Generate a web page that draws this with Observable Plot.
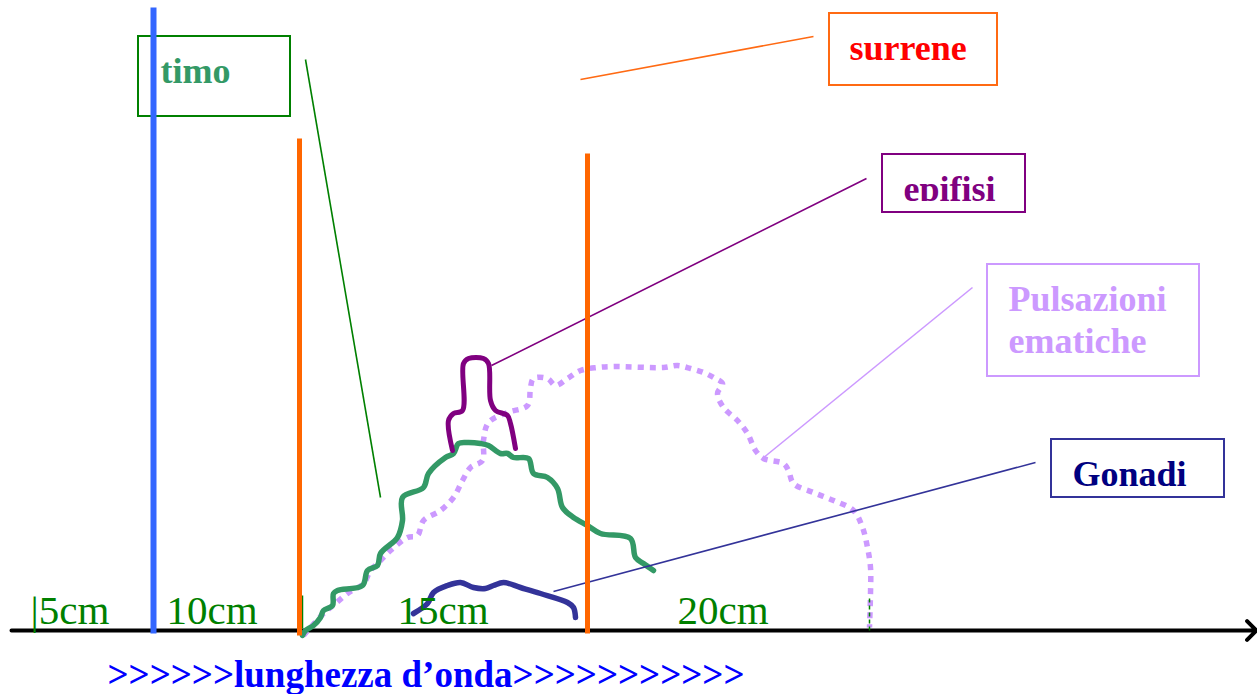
<!DOCTYPE html>
<html><head><meta charset="utf-8">
<script src="https://cdn.jsdelivr.net/npm/d3@7"></script>
<script src="https://cdn.jsdelivr.net/npm/@observablehq/plot@0.6"></script>
<style>body{margin:0;background:#fff;overflow:hidden}</style>
</head><body><div id="chart"></div>
<script>
// Curves: [position along wavelength axis, response level above axis]
const timo = [[302,-5],[305,0],[313,5],[320,13],[323,20],[332,25],[333,37],[337,40],[362,45],[367,60],[377,65],[380,77],[397,93],[402,110],[402,133],[423,143],[428,157],[445,173],[453,177],[458,187],[467,188],[480,187],[488,185],[500,177],[507,177],[513,173],[528,172],[533,157],[547,153],[557,142],[562,123],[573,113],[587,105],[600,97],[630,92],[635,73],[643,67],[653,60]];
const epifisi = [[452,180],[448,210],[453,217],[462,220],[463,267],[468,272],[483,272],[488,267],[490,230],[495,220],[507,215],[510,207],[515,182]];
const pulsazioni = [[303,-5],[323,17],[335,27],[347,37],[363,47],[370,60],[380,70],[390,80],[407,93],[417,95],[423,110],[440,120],[453,133],[462,150],[470,163],[482,170],[483,190],[488,208],[507,218],[527,225],[530,243],[533,252],[547,252],[555,245],[567,252],[580,260],[597,263],[613,264],[663,263],[677,265],[690,262],[703,258],[713,253],[722,247],[717,237],[723,223],[737,210],[747,197],[755,180],[763,172],[783,167],[788,160],[793,147],[813,138],[833,130],[853,120],[862,103],[867,83],[870,63],[870,37],[869,3]];
const gonadi = [[413,17],[427,27],[433,38],[447,45],[460,48],[473,43],[485,42],[493,45],[503,48],[520,43],[540,37],[567,28],[573,23],[575,13]];

// Vertical markers: x, bottom, top
const blueBar = [{x:153, y1:-3, y2:623}];
const orangeBars = [{x:299, y1:-5, y2:492},{x:587, y1:-3, y2:477}];
const greenTicks = [{x:302, y1:2, y2:35}];
const greenDash = [{x:869, y1:0, y2:35}];

// Axis
const axisLine = [{x1:11, y1:0, x2:1256, y2:0}];
const tickLabels = ["|5cm","10cm","15cm","20cm"];
const tickPos = [30,166,397,677];
const axisTitle = ">>>>>>lunghezza d’onda>>>>>>>>>>>";

// Annotation boxes and leaders
const labels = [
  {name:"timo", text:"timo", tx:160, ty:548, bx1:138, bx2:290, by1:514, by2:594, lx1:305, ly1:571, lx2:380, ly2:133, border:"#008000", color:"#339966", leader:"#008000"},
  {name:"surrene", text:"surrene", tx:849, ty:571, bx1:829, bx2:997, by1:545, by2:617, lx1:580, ly1:551, lx2:813, ly2:594, border:"#ff6a13", color:"#ff0000", leader:"#ff6a13"},
  {name:"epifisi", text:"epifisi", tx:903, ty:430, bx1:882, bx2:1025, by1:418, by2:476, lx1:491, ly1:265, lx2:866, ly2:452, border:"#800080", color:"#800080", leader:"#800080"},
  {name:"pulsazioni", text:"Pulsazioni\nematiche", tx:1008, ty:278, bx1:987, bx2:1199, by1:254, by2:366, lx1:762, ly1:172, lx2:972, ly2:343, border:"#cc99ff", color:"#cc99ff", leader:"#cc99ff"},
  {name:"gonadi", text:"Gonadi", tx:1072, ty:145, bx1:1051, bx2:1224, by1:133, by2:191, lx1:553, ly1:39, lx2:1035, ly2:168, border:"#333399", color:"#000080", leader:"#333399"}
];
const epifisiMask = [{x1:884, x2:1023, y1:420, y2:429}];

const px = d => d[0], py = d => d[1];
const serif = "'Liberation Serif', 'Times New Roman', serif";
const marks = [
  Plot.arrow(axisLine, {x1:"x1", y1:"y1", x2:"x2", y2:"y2", stroke:"black", strokeWidth:4, headLength:5, headAngle:90}),
  Plot.line(pulsazioni, {x:px, y:py, stroke:"#cc99ff", strokeWidth:5.5, strokeDasharray:"6,6", strokeLinecap:"butt", curve:"catmull-rom"}),
  Plot.line(timo, {x:px, y:py, stroke:"#339966", strokeWidth:5.5, curve:"catmull-rom", strokeLinejoin:"round"}),
  Plot.line(epifisi, {x:px, y:py, stroke:"#800080", strokeWidth:5, curve:"catmull-rom", strokeLinejoin:"round"}),
  Plot.line(gonadi, {x:px, y:py, stroke:"#333399", strokeWidth:5.5, curve:"catmull-rom", strokeLinejoin:"round"}),
  Plot.link(greenTicks, {x1:"x", x2:"x", y1:"y1", y2:"y2", stroke:"#008000", strokeWidth:1.5}),
  Plot.link(greenDash, {x1:"x", x2:"x", y1:"y1", y2:"y2", stroke:"#008000", strokeWidth:1.5, strokeDasharray:"4,3"})
];
for (const l of labels) {
  marks.push(Plot.link([l], {x1:"lx1", y1:"ly1", x2:"lx2", y2:"ly2", stroke:l.leader, strokeWidth:1.6}));
  marks.push(Plot.rect([l], {x1:"bx1", x2:"bx2", y1:"by1", y2:"by2", fill:"white", stroke:l.border, strokeWidth:2}));
  marks.push(Plot.text([l], {x:"tx", y:"ty", text:"text", textAnchor:"start", lineAnchor:"bottom", lineHeight:1.15, fill:l.color, fontFamily:serif, fontWeight:"bold", fontSize:36}));
}
marks.push(Plot.rect(epifisiMask, {x1:"x1", x2:"x2", y1:"y1", y2:"y2", fill:"white"}));
marks.push(
  Plot.link(blueBar, {x1:"x", x2:"x", y1:"y1", y2:"y2", stroke:"#3366ff", strokeWidth:6}),
  Plot.link(orangeBars, {x1:"x", x2:"x", y1:"y1", y2:"y2", stroke:"#ff6600", strokeWidth:5}),
  Plot.text(tickLabels, {x:(d,i)=>tickPos[i], y:7, text:d=>d, textAnchor:"start", lineAnchor:"bottom", fill:"#008000", fontFamily:serif, fontSize:41}),
  Plot.text([axisTitle], {x:107, y:-56, text:d=>d, textAnchor:"start", lineAnchor:"bottom", fill:"#0000ff", fontFamily:serif, fontWeight:"bold", fontSize:37})
);

const chart = Plot.plot({
  width:1257, height:694, margin:0,
  x:{domain:[0,1257], axis:null},
  y:{domain:[-64,630], axis:null},
  style:{background:"white", overflow:"visible"},
  marks
});
document.getElementById("chart").append(chart);
</script>
</body></html>
